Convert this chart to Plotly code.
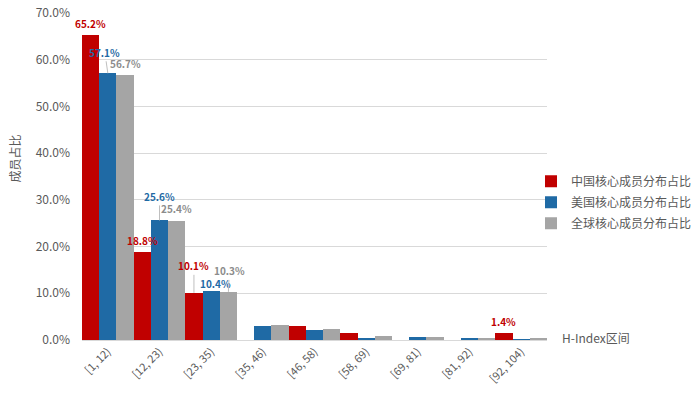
import plotly.graph_objects as go

categories = ["[1, 12)", "[12, 23)", "[23, 35)", "[35, 46)", "[46, 58)",
              "[58, 69)", "[69, 81)", "[81, 92)", "[92, 104)"]
series_names = ["中国核心成员分布占比", "美国核心成员分布占比", "全球核心成员分布占比"]
china = [0.652, 0.188, 0.101, 0.0, 0.029, 0.015, 0.0, 0.0, 0.014]
usa = [0.571, 0.256, 0.104, 0.030, 0.021, 0.004, 0.007, 0.004, 0.002]
world = [0.567, 0.254, 0.103, 0.032, 0.023, 0.009, 0.006, 0.004, 0.004]
y_ticks = [0.0, 0.1, 0.2, 0.3, 0.4, 0.5, 0.6, 0.7]

colors = ["#C00000", "#1F6AA5", "#A5A5A5"]
label_colors = ["#C00000", "#1F6AA5", "#8C8C8C"]
FONT = "Noto Sans CJK SC, Noto Sans, sans-serif"
TXT = "#595959"

fig = go.Figure()
for name, vals, col in zip(series_names, [china, usa, world], colors):
    fig.add_trace(go.Bar(x=categories, y=vals, name=name, legendgroup=name,
                         marker=dict(color=col, line=dict(width=0))))

# data labels: (series index, category index, xshift, yshift or leader length, leader?)
label_specs = [
    (0, 0, 0, 12, False), (0, 1, 0, 12, False), (0, 2, 0, 27, True), (0, 8, 0, 12, False),
    (1, 0, -3, 21, True), (1, 1, 0, 24, True), (1, 2, 4, 8, False),
    (2, 0, 0, 12, False), (2, 1, 0, 13, False), (2, 2, 1, 21, True),
]
bar_w = 465 / 27.0
all_vals = [china, usa, world]
for s, c, dx, dy, leader in label_specs:
    v = all_vals[s][c]
    off = (s - 1) * bar_w
    txt = f"{v*100:.1f}%"
    f = dict(family=FONT, size=10, color=label_colors[s])
    if leader:
        fig.add_annotation(x=categories[c], y=v, text=f"<b>{txt}</b>", xshift=off,
                           showarrow=True, arrowhead=0, arrowwidth=1, arrowcolor="#BFBFBF",
                           ax=dx, ay=-dy, font=f)
    else:
        fig.add_annotation(x=categories[c], y=v, text=f"<b>{txt}</b>", xshift=off + dx,
                           yshift=dy, showarrow=False, yanchor="middle", font=f)

fig.add_annotation(xref="paper", yref="paper", x=-0.1441, y=0.5, xanchor="center", yanchor="middle",
                   yshift=18,
                   text="成员占比", textangle=-90, showarrow=False,
                   font=dict(family=FONT, size=12, color=TXT))
fig.add_annotation(xref="paper", yref="paper", x=1.028, y=0, xanchor="left", yanchor="middle",
                   yshift=3, text="H-Index区间", showarrow=False,
                   font=dict(family=FONT, size=12, color=TXT))

fig.update_layout(
    width=692, height=395,
    margin=dict(l=74, r=153, t=5, b=63, autoexpand=False),
    paper_bgcolor="white", plot_bgcolor="white",
    barmode="group", bargap=0, bargroupgap=0,
    font=dict(family=FONT, color=TXT),
    showlegend=True,
    legend=dict(x=0.9656, y=0.53, xanchor="left", yanchor="top",
                font=dict(family=FONT, size=12, color=TXT), traceorder="grouped",
                itemwidth=30, tracegroupgap=2, bgcolor="rgba(0,0,0,0)"),
    xaxis=dict(type="category", range=[-0.5, 8.5], tickangle=-45, automargin=False,
               tickfont=dict(family=FONT, size=11, color=TXT),
               showline=True, linecolor="#D9D9D9", linewidth=1, ticks="",
               showgrid=False),
    yaxis=dict(range=[0, 0.7], tickvals=y_ticks, tickformat=".1%", automargin=False,
               tickfont=dict(family=FONT, size=12, color=TXT), ticklabeloverflow="allow",
               showgrid=True, gridcolor="#D9D9D9", gridwidth=1,
               zeroline=False, showline=False, ticks="", ticklabelstandoff=11),
)

fig.write_html("out.html")
